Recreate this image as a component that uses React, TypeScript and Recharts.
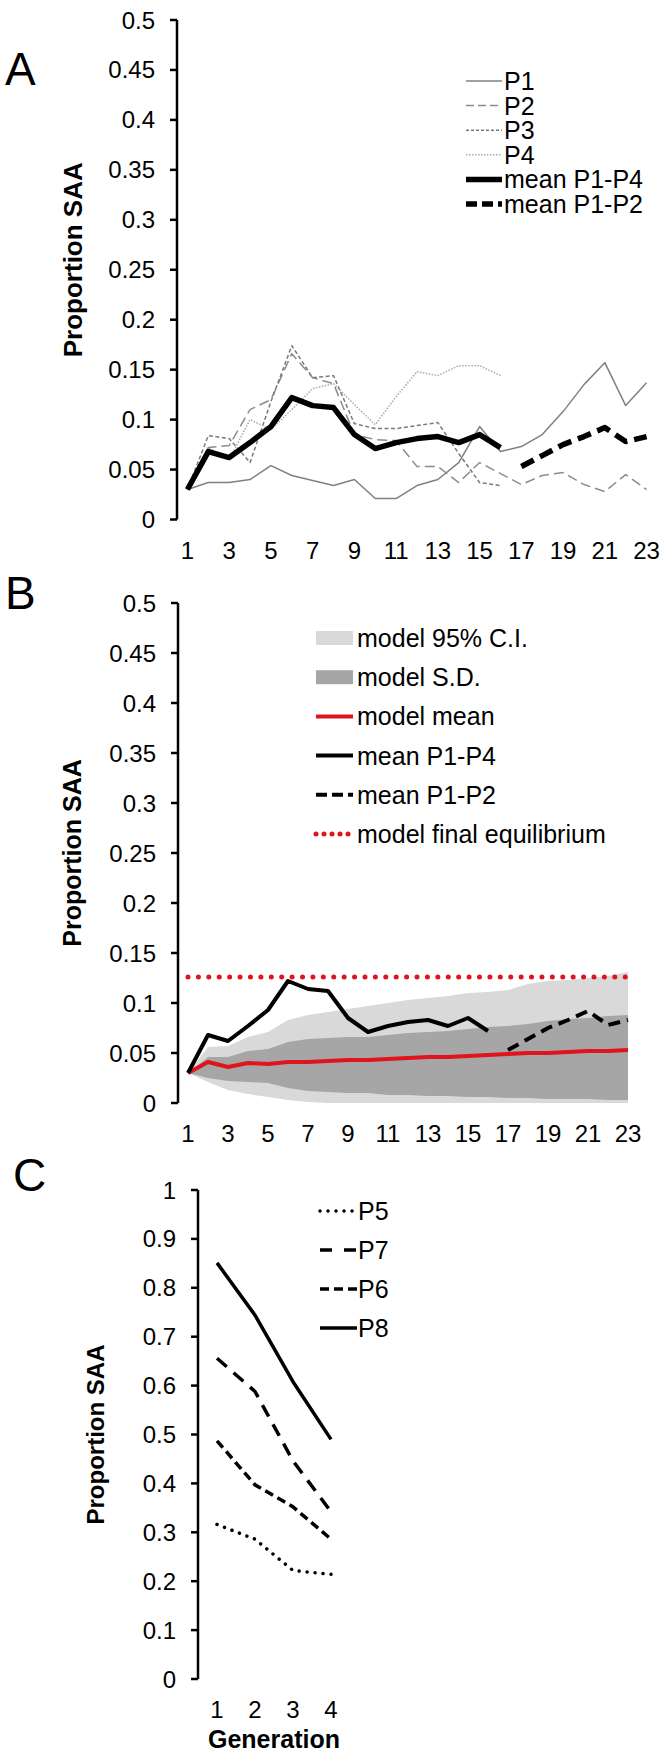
import React from 'react';
import { ComposedChart, Line, Area, XAxis, YAxis, Legend } from 'recharts';

const FONT = '"Liberation Sans", Arial, Helvetica, sans-serif';

// generations (x categories)
const generations = [1, 2, 3, 4, 5, 6, 7, 8, 9, 10, 11, 12, 13, 14, 15, 16, 17, 18, 19, 20, 21, 22, 23];
const genLabels = [1, 3, 5, 7, 9, 11, 13, 15, 17, 19, 21, 23];
const tickMarksA = [0.5, 1.5, 2.5, 3.5, 4.5, 5.5, 6.5, 7.5, 8.5, 9.5, 10.5, 11.5, 12.5, 13.5, 14.5, 15.5, 16.5, 17.5, 18.5, 19.5, 20.5, 21.5, 22.5, 23.5];
const tickMarksB = [0.5, 2.5, 4.5, 6.5, 8.5, 10.5, 12.5, 14.5, 16.5, 18.5, 20.5, 22.5];
const yTicksAB = [0, 0.05, 0.1, 0.15, 0.2, 0.25, 0.3, 0.35, 0.4, 0.45, 0.5];

// panel A: populations
const p1 = [0.03, 0.037, 0.037, 0.04, 0.054, 0.044, 0.039, 0.034, 0.04, 0.021, 0.021, 0.034, 0.04, 0.057, 0.093, 0.068, 0.073, 0.085, 0.108, 0.135, 0.157, 0.114, 0.137];
const p2 = [0.03, 0.072, 0.074, 0.11, 0.12, 0.166, 0.142, 0.136, 0.085, 0.08, 0.079, 0.053, 0.053, 0.037, 0.057, 0.046, 0.035, 0.044, 0.047, 0.035, 0.028, 0.045, 0.03];
const p3 = [0.03, 0.084, 0.081, 0.057, 0.118, 0.174, 0.142, 0.144, 0.096, 0.091, 0.091, 0.094, 0.097, 0.066, 0.037, 0.034, null, null, null, null, null, null, null];
const p4 = [0.03, 0.072, 0.06, 0.1, 0.09, 0.11, 0.131, 0.136, 0.115, 0.095, 0.123, 0.148, 0.144, 0.154, 0.154, 0.144, null, null, null, null, null, null, null];
const meanP1P4 = [0.03, 0.068, 0.062, 0.077, 0.093, 0.122, 0.114, 0.112, 0.085, 0.071, 0.077, 0.081, 0.083, 0.077, 0.085, 0.072, null, null, null, null, null, null, null];
const meanP1P2 = [null, null, null, null, null, null, null, null, null, null, null, null, null, null, null, null, 0.053, 0.064, 0.075, 0.083, 0.092, 0.078, 0.083];

// panel B: model
const modelMean = [0.03, 0.041, 0.036, 0.04, 0.039, 0.041, 0.041, 0.042, 0.043, 0.043, 0.044, 0.045, 0.046, 0.046, 0.047, 0.048, 0.049, 0.05, 0.05, 0.051, 0.052, 0.052, 0.053];
const sdLow = [0.03, 0.025, 0.022, 0.021, 0.02, 0.015, 0.012, 0.011, 0.01, 0.01, 0.008, 0.008, 0.007, 0.007, 0.006, 0.006, 0.005, 0.005, 0.004, 0.004, 0.004, 0.003, 0.003];
const sdHigh = [0.03, 0.046, 0.046, 0.052, 0.054, 0.061, 0.064, 0.065, 0.066, 0.066, 0.068, 0.07, 0.071, 0.072, 0.074, 0.076, 0.077, 0.079, 0.082, 0.084, 0.085, 0.087, 0.088];
const ciLow = [0.03, 0.021, 0.013, 0.009, 0.006, 0.003, 0.001, 0, 0, 0, 0, 0, 0, 0, 0, 0, 0, 0, 0, 0, 0, 0, 0];
const ciHigh = [0.03, 0.056, 0.057, 0.066, 0.071, 0.083, 0.088, 0.091, 0.094, 0.097, 0.1, 0.103, 0.105, 0.107, 0.11, 0.111, 0.113, 0.119, 0.122, 0.123, 0.125, 0.127, 0.131];
const equilibrium = [0.126, 0.126, 0.126, 0.126, 0.126, 0.126, 0.126, 0.126, 0.126, 0.126, 0.126, 0.126, 0.126, 0.126, 0.126, 0.126, 0.126, 0.126, 0.126, 0.126, 0.126, 0.126, 0.126];

// panel C
const gensC = [1, 2, 3, 4];
const tickMarksC = [0.5, 1.5, 2.5, 3.5, 4.5];
const yTicksC = [0, 0.1, 0.2, 0.3, 0.4, 0.5, 0.6, 0.7, 0.8, 0.9, 1];
const p5 = [0.316, 0.286, 0.222, 0.214];
const p6 = [0.487, 0.397, 0.352, 0.286];
const p7 = [0.656, 0.588, 0.446, 0.342];
const p8 = [0.851, 0.744, 0.608, 0.49];

const rowsA = generations.map((g, i) => ({
  g, P1: p1[i], P2: p2[i], P3: p3[i], P4: p4[i], m14: meanP1P4[i], m12: meanP1P2[i],
}));
const rowsB = generations.map((g, i) => ({
  g, ci: [ciLow[i], ciHigh[i]], sd: [sdLow[i], sdHigh[i]], mm: modelMean[i], eq: equilibrium[i], m14: meanP1P4[i], m12: meanP1P2[i],
}));
const rowsC = gensC.map((g, i) => ({ g, P5: p5[i], P6: p6[i], P7: p7[i], P8: p8[i] }));

type Series = {
  key: string;
  name: string;
  kind?: 'line' | 'rect';
  stroke: string;
  width?: number;
  dash?: string;
  legendDash?: string;
  cap?: 'round' | 'butt';
};

const seriesA: Series[] = [
  { key: 'P1', name: 'P1', stroke: '#808080', width: 1.5 },
  { key: 'P2', name: 'P2', stroke: '#8c8c8c', width: 1.5, dash: '10 5', legendDash: '8 4' },
  { key: 'P3', name: 'P3', stroke: '#7a7a7a', width: 1.5, dash: '4 2.5', legendDash: '3 2' },
  { key: 'P4', name: 'P4', stroke: '#aaaaaa', width: 1.5, dash: '1.5 1.5' },
  { key: 'm14', name: 'mean P1-P4', stroke: '#000', width: 5.5 },
  { key: 'm12', name: 'mean P1-P2', stroke: '#000', width: 5.5, dash: '14 7', legendDash: '11 5' },
];

const legendB: Series[] = [
  { key: 'ci', name: 'model 95% C.I.', kind: 'rect', stroke: '#d9d9d9' },
  { key: 'sd', name: 'model S.D.', kind: 'rect', stroke: '#a6a6a6' },
  { key: 'mm', name: 'model mean', stroke: '#e0141c', width: 4 },
  { key: 'm14', name: 'mean P1-P4', stroke: '#000', width: 4 },
  { key: 'm12', name: 'mean P1-P2', stroke: '#000', width: 4, dash: '12 7', legendDash: '11 5' },
  { key: 'eq', name: 'model final equilibrium', stroke: '#e0141c', width: 5, dash: '0.01 10.4', legendDash: '0.01 8', cap: 'round' },
];

const seriesC: Series[] = [
  { key: 'P5', name: 'P5', stroke: '#000', width: 3.5, dash: '0.01 8', cap: 'round' },
  { key: 'P7', name: 'P7', stroke: '#000', width: 3.5, dash: '13 9', legendDash: '12 12' },
  { key: 'P6', name: 'P6', stroke: '#000', width: 3.5, dash: '9 5' },
  { key: 'P8', name: 'P8', stroke: '#000', width: 3.5 },
];

const axisStyle = { stroke: '#000', strokeWidth: 2.5 };
const tickStyle = { fontSize: 24, fill: '#000', fontFamily: FONT };
const noTick = () => <g />;

const yTitle = (cx: number, size: number, shift: number) => (props: any) => {
  const vb = props.viewBox || { y: 0, height: 0 };
  const cy = vb.y + vb.height / 2 + shift;
  return (
    <text x={cx} y={cy} transform={`rotate(-90, ${cx}, ${cy})`} textAnchor="middle" dy="0.36em"
      fontSize={size} fontWeight="bold" fontFamily={FONT} fill="#000">Proportion SAA</text>
  );
};

const xTitle = (props: any) => {
  const vb = props.viewBox || { x: 0, y: 0, width: 0, height: 0 };
  return (
    <text x={vb.x + vb.width / 2} y={vb.y + vb.height - 4} textAnchor="middle"
      fontSize={25} fontWeight="bold" fontFamily={FONT} fill="#000">Generation</text>
  );
};

const makeLegend = (entries: Series[], rowH: number, first: number, x0: number, x1: number, tx: number, w: number) => () => (
  <svg width={w} height={first * 2 + rowH * (entries.length - 1)} style={{ display: 'block', overflow: 'visible' }}>
    {entries.map((e, i) => {
      const y = first + i * rowH;
      return (
        <g key={e.key}>
          {e.kind === 'rect' ? (
            <rect x={x0} y={y - 7} width={x1 - x0} height={14} fill={e.stroke} />
          ) : (
            <line x1={x0} x2={x1} y1={y} y2={y} stroke={e.stroke} strokeWidth={e.width}
              strokeDasharray={e.legendDash || e.dash} strokeLinecap={e.cap || 'butt'} />
          )}
          <text x={tx} y={y} dy="0.36em" fontSize={25} fontFamily={FONT} fill="#000">{e.name}</text>
        </g>
      );
    })}
  </svg>
);

function PanelA() {
  return (
    <ComposedChart width={660} height={580} data={rowsA} margin={{ top: 20, right: 3, bottom: 0, left: 77 }}>
      <XAxis xAxisId="m" dataKey="g" type="number" domain={[0.5, 23.5]} ticks={tickMarksA} interval={0}
        height={0} tick={noTick} axisLine={axisStyle} tickLine={axisStyle} tickSize={7} />
      <XAxis xAxisId="l" dataKey="g" type="number" domain={[0.5, 23.5]} ticks={genLabels} interval={0}
        height={60.5} axisLine={false} tickLine={false} tickSize={7} tickMargin={15} tick={tickStyle} />
      <YAxis type="number" domain={[0, 0.5]} ticks={yTicksAB} interval={0} width={100}
        axisLine={axisStyle} tickLine={axisStyle} tickSize={7} tickMargin={15} tick={tickStyle} label={yTitle(73, 26, -10)} />
      {seriesA.map((s) => (
        <Line key={s.key} xAxisId="m" dataKey={s.key} name={s.name} type="linear" stroke={s.stroke}
          strokeWidth={s.width} strokeDasharray={s.dash} strokeLinecap={s.cap || 'butt'} strokeLinejoin="round"
          dot={false} activeDot={false} isAnimationActive={false} />
      ))}
      <Legend layout="vertical" align="center" verticalAlign="middle"
        content={makeLegend(seriesA, 24.6, 21, 5, 41, 43, 200)}
        wrapperStyle={{ position: 'absolute', left: 461, top: 60, width: 200, margin: 0 }} />
    </ComposedChart>
  );
}

function PanelB() {
  return (
    <ComposedChart width={660} height={580} data={rowsB} margin={{ top: 20, right: 22, bottom: 0, left: 78 }}>
      <XAxis xAxisId="m" dataKey="g" type="number" domain={[0.5, 23.5]} ticks={tickMarksB} interval={0}
        height={0} tick={noTick} axisLine={axisStyle} tickLine={axisStyle} tickSize={7} />
      <XAxis xAxisId="l" dataKey="g" type="number" domain={[0.5, 23.5]} ticks={genLabels} interval={0}
        height={60} axisLine={false} tickLine={false} tickSize={7} tickMargin={15} tick={tickStyle} />
      <YAxis type="number" domain={[0, 0.5]} ticks={yTicksAB} interval={0} width={100}
        axisLine={axisStyle} tickLine={axisStyle} tickSize={7} tickMargin={15} tick={tickStyle} label={yTitle(72, 25, 0)} />
      <Area xAxisId="m" dataKey="ci" type="linear" fill="#d9d9d9" fillOpacity={1} stroke="none"
        dot={false} activeDot={false} isAnimationActive={false} />
      <Area xAxisId="m" dataKey="sd" type="linear" fill="#a6a6a6" fillOpacity={1} stroke="none"
        dot={false} activeDot={false} isAnimationActive={false} />
      {legendB.filter((s) => s.kind !== 'rect').map((s) => (
        <Line key={s.key} xAxisId="m" dataKey={s.key} name={s.name} type="linear" stroke={s.stroke}
          strokeWidth={s.width} strokeDasharray={s.dash} strokeLinecap={s.cap || 'butt'} strokeLinejoin="round"
          dot={false} activeDot={false} isAnimationActive={false} />
      ))}
      <Legend layout="vertical" align="center" verticalAlign="middle"
        content={makeLegend(legendB, 39.2, 18, 6, 43, 47, 340)}
        wrapperStyle={{ position: 'absolute', left: 310, top: 37, width: 340, margin: 0 }} />
    </ComposedChart>
  );
}

function PanelC() {
  return (
    <ComposedChart width={660} height={587} data={rowsC} margin={{ top: 25, right: 310, bottom: 0, left: 98 }}>
      <XAxis xAxisId="m" dataKey="g" type="number" domain={[0.5, 4.5]} ticks={tickMarksC} interval={0}
        height={0} tick={noTick} axisLine={axisStyle} tickLine={axisStyle} tickSize={7} />
      <XAxis xAxisId="l" dataKey="g" type="number" domain={[0.5, 4.5]} ticks={gensC} interval={0}
        height={73} axisLine={false} tickLine={false} tickSize={7} tickMargin={15} tick={tickStyle} label={xTitle} />
      <YAxis type="number" domain={[0, 1]} ticks={yTicksC} interval={0} width={100}
        axisLine={axisStyle} tickLine={axisStyle} tickSize={7} tickMargin={15} tick={tickStyle} label={yTitle(95, 24, 0)} />
      {seriesC.map((s) => (
        <Line key={s.key} xAxisId="m" dataKey={s.key} name={s.name} type="linear" stroke={s.stroke}
          strokeWidth={s.width} strokeDasharray={s.dash} strokeLinecap={s.cap || 'butt'} strokeLinejoin="round"
          dot={false} activeDot={false} isAnimationActive={false} />
      ))}
      <Legend layout="vertical" align="center" verticalAlign="middle"
        content={makeLegend(seriesC, 39, 21, 5, 42, 43, 120)}
        wrapperStyle={{ position: 'absolute', left: 315, top: 25, width: 120, margin: 0 }} />
    </ComposedChart>
  );
}

export default function App() {
  return (
    <div style={{ position: 'absolute', left: 0, top: 0, width: 660, height: 1752, background: '#fff', fontFamily: FONT }}>
      <div style={{ position: 'absolute', left: 0, top: 0 }}><PanelA /></div>
      <div style={{ position: 'absolute', left: 0, top: 583 }}><PanelB /></div>
      <div style={{ position: 'absolute', left: 0, top: 1165 }}><PanelC /></div>
      <svg width={660} height={1752} style={{ position: 'absolute', left: 0, top: 0, pointerEvents: 'none' }}>
        <text x={5} y={85} fontSize={46} fontFamily={FONT} fill="#000">A</text>
        <text x={5} y={609} fontSize={46} fontFamily={FONT} fill="#000">B</text>
        <text x={13} y={1191} fontSize={46} fontFamily={FONT} fill="#000">C</text>
      </svg>
    </div>
  );
}
